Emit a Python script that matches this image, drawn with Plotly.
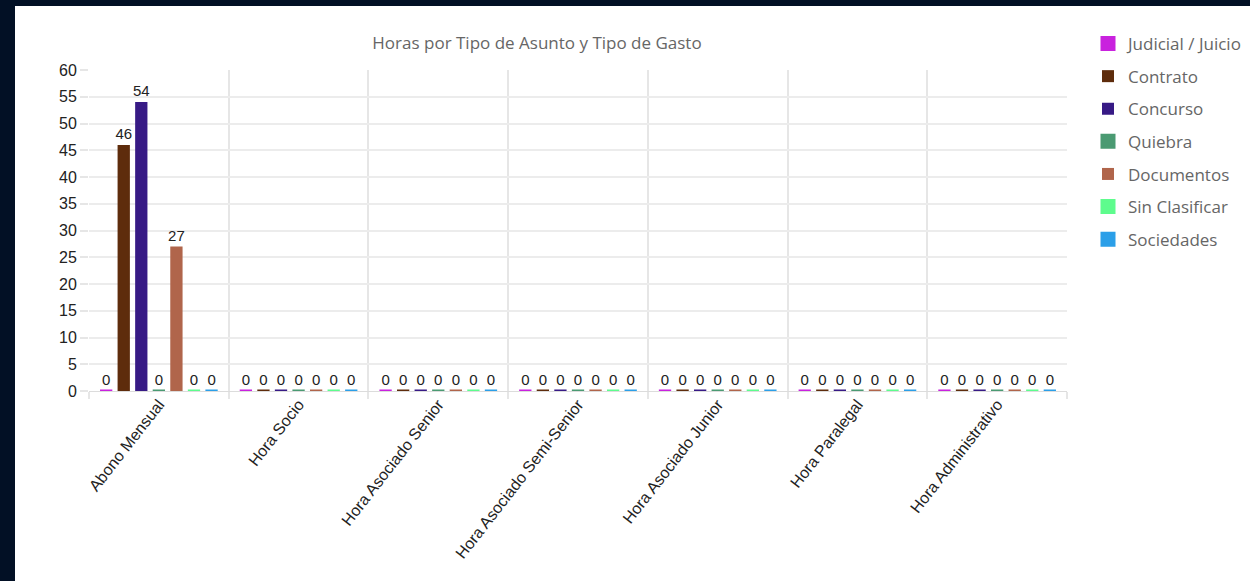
import plotly.graph_objects as go

categories = ["Abono Mensual", "Hora Socio", "Hora Asociado Senior", "Hora Asociado Semi-Senior",
              "Hora Asociado Junior", "Hora Paralegal", "Hora Administrativo"]
series_names = ["Judicial / Juicio", "Contrato", "Concurso", "Quiebra", "Documentos", "Sin Clasificar", "Sociedades"]
judicial = [0, 0, 0, 0, 0, 0, 0]
contrato = [46, 0, 0, 0, 0, 0, 0]
concurso = [54, 0, 0, 0, 0, 0, 0]
quiebra = [0, 0, 0, 0, 0, 0, 0]
documentos = [27, 0, 0, 0, 0, 0, 0]
sin_clasificar = [0, 0, 0, 0, 0, 0, 0]
sociedades = [0, 0, 0, 0, 0, 0, 0]
series_values = [judicial, contrato, concurso, quiebra, documentos, sin_clasificar, sociedades]
colors = ["#c922de", "#5e2c0c", "#371a85", "#4a9a72", "#b0654b", "#5efc8d", "#2b9fe8"]

fig = go.Figure()
for i, (name, vals, col) in enumerate(zip(series_names, series_values, colors)):
    fig.add_trace(go.Bar(
        x=categories, y=vals, name=name,
        marker=dict(color=col, line=dict(color=col, width=[3 if v == 0 else 0 for v in vals])),
        text=[str(v) for v in vals], textposition="outside", constraintext="none",
        textfont=dict(family="Liberation Sans, Arial", size=15, color="#222"),
        cliponaxis=False, legendgroup=name,
    ))

W, H = 1250, 581
L, R, T, B = 89, 183, 70, 190
pw, ph = W - L - R, H - T - B

def px_x(p):
    return (p - L) / pw

def px_y(p):
    return (H - B - p) / ph

fig.update_layout(
    width=W, height=H,
    margin=dict(l=L, r=R, t=T, b=B, autoexpand=False),
    paper_bgcolor="#021025",
    plot_bgcolor="white",
    barmode="group", bargap=0.12, bargroupgap=0.3,
    title=dict(text="Horas por Tipo de Asunto y Tipo de Gasto", x=px_x(537), xref="paper", xanchor="center",
               y=1 - 43 / H, yanchor="middle",
               font=dict(family="Open Sans", size=17, color="#666")),
    font=dict(family="Liberation Sans, Arial", color="#333"),
    legend=dict(x=px_x(1088), y=px_y(26), xanchor="left", yanchor="top",
                font=dict(family="Open Sans", size=17, color="#666"),
                tracegroupgap=7.5, bgcolor="rgba(0,0,0,0)"),
    shapes=[dict(type="rect", xref="paper", yref="paper", layer="below",
                 x0=px_x(15), x1=px_x(W + 5), y0=px_y(H + 5), y1=px_y(6),
                 fillcolor="white", line=dict(width=0))],
    xaxis=dict(tickson="boundaries", showgrid=True, gridcolor="#e6e6e6", gridwidth=2,
               ticks="outside", ticklen=7, tickcolor="#e6e6e6", tickwidth=2,
               tickangle=-52, tickfont=dict(family="Liberation Sans, Arial", size=16, color="#222"),
               showline=False, zeroline=False),
    yaxis=dict(range=[0, 60], dtick=5, showgrid=True, gridcolor="#ececec", gridwidth=2,
               ticks="outside", ticklen=8, tickcolor="#e6e6e6", tickwidth=2,
               tickfont=dict(family="Liberation Sans, Arial", size=16, color="#222"),
               zeroline=True, zerolinecolor="#dcdcdc", zerolinewidth=1, showline=False),
)

fig.write_html("out.html", config={"displayModeBar": False},
               post_script="document.body.style.margin='0';")
